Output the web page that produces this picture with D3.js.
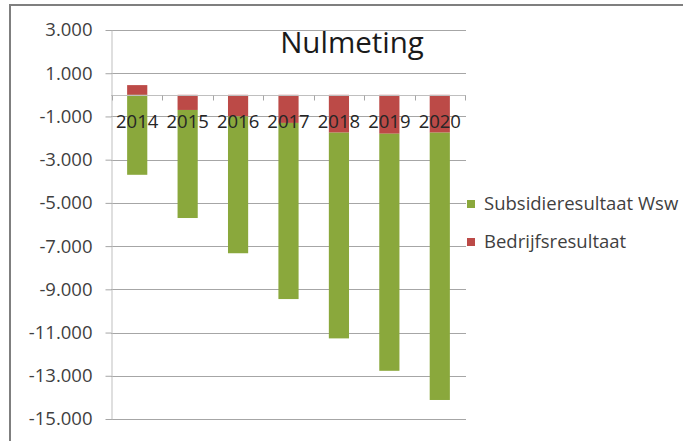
<!DOCTYPE html>
<html>
<head>
<meta charset="utf-8">
<script src="https://cdn.jsdelivr.net/npm/d3@7"></script>
<style>
  html, body { margin: 0; padding: 0; background: #ffffff; }
  svg { display: block; }
  text { font-family: "Open Sans", "Liberation Sans", sans-serif; }
</style>
</head>
<body>
<svg id="chart" width="683" height="441"></svg>
<script>
// Jaren en resultaten (in euro's x 1)
const years = ["2014", "2015", "2016", "2017", "2018", "2019", "2020"];
const subsidieresultaat = [-3700, -5000, -6330, -8150, -9520, -10970, -12370];
const bedrijfsresultaat = [450, -700, -1000, -1300, -1750, -1800, -1750];
const yTickValues = [3000, 1000, -1000, -3000, -5000, -7000, -9000, -11000, -13000, -15000];
const seriesNames = ["Subsidieresultaat Wsw", "Bedrijfsresultaat"];
const seriesColors = ["#8aa83c", "#bc4a47"];
const chartTitle = "Nulmeting";

const svg = d3.select("#chart");

// Dutch number format: 3.000 / -15.000
const nl = d3.formatLocale({ decimal: ",", thousands: ".", grouping: [3], currency: ["€", ""], minus: "-" });
const fmt = nl.format(",.0f");

const plot = { left: 111, right: 466, top: 30, bottom: 419 };

const x = d3.scaleBand()
  .domain(years)
  .range([112, 465])
  .paddingInner(0.6)
  .paddingOuter(0.3);

const y = d3.scaleLinear()
  .domain([-15000, 3000])
  .range([plot.bottom, plot.top]);

// Outer frame
svg.append("rect")
  .attr("x", 10).attr("y", 5)
  .attr("width", 690).attr("height", 460)
  .attr("fill", "none")
  .attr("stroke", "#7f7f7f")
  .attr("stroke-width", 2);

// Horizontal gridlines
svg.append("g")
  .selectAll("line")
  .data(yTickValues)
  .join("line")
  .attr("x1", plot.left)
  .attr("x2", plot.right)
  .attr("y1", d => Math.round(y(d)) + 0.5)
  .attr("y2", d => Math.round(y(d)) + 0.5)
  .attr("stroke", "#a6a6a6")
  .attr("stroke-width", 1);

// Y axis
const yAxis = d3.axisLeft(y)
  .tickValues(yTickValues)
  .tickFormat(fmt)
  .tickSizeInner(6)
  .tickSizeOuter(0)
  .tickPadding(13);

const gy = svg.append("g")
  .attr("transform", `translate(${plot.left + 0.5},0)`)
  .call(yAxis);
gy.select(".domain").attr("stroke", "#bfbfbf");
gy.selectAll(".tick line").attr("stroke", "#a6a6a6");
gy.selectAll(".tick text")
  .attr("fill", "#3f3f3f")
  .style("font-size", "18.5px");

// Stacked bars, diverging from zero
const rows = years.map((yr, i) => ({
  year: yr,
  bedrijf: bedrijfsresultaat[i],
  subsidie: subsidieresultaat[i]
}));
const stack = d3.stack()
  .keys(["bedrijf", "subsidie"])
  .offset(d3.stackOffsetDiverging);
const stacked = stack(rows);
const colorOf = { bedrijf: seriesColors[1], subsidie: seriesColors[0] };

svg.append("g")
  .selectAll("g")
  .data(stacked)
  .join("g")
  .attr("fill", s => colorOf[s.key])
  .selectAll("rect")
  .data(s => s)
  .join("rect")
  .attr("x", d => x(d.data.year))
  .attr("width", x.bandwidth())
  .attr("y", d => y(Math.max(d[0], d[1])))
  .attr("height", d => Math.abs(y(d[0]) - y(d[1])));

// Category axis along zero
const y0 = Math.round(y(0)) + 0.5;
const xAxisG = svg.append("g");
xAxisG.append("line")
  .attr("x1", plot.left).attr("x2", plot.right)
  .attr("y1", y0).attr("y2", y0)
  .attr("stroke", "#bfbfbf");
const boundaries = d3.range(years.length + 1).map(i => x.range()[0] + i * x.step());
xAxisG.selectAll("line.tk")
  .data(boundaries)
  .join("line")
  .attr("class", "tk")
  .attr("x1", d => Math.round(d) + 0.5)
  .attr("x2", d => Math.round(d) + 0.5)
  .attr("y1", y0)
  .attr("y2", y0 + 5)
  .attr("stroke", "#a6a6a6");
xAxisG.selectAll("text")
  .data(years)
  .join("text")
  .attr("x", d => x(d) + x.bandwidth() / 2)
  .attr("y", 128)
  .attr("text-anchor", "middle")
  .attr("fill", "#262626")
  .style("font-size", "18.5px")
  .text(d => d);

// Title
svg.append("text")
  .attr("x", 352)
  .attr("y", 53)
  .attr("text-anchor", "middle")
  .attr("fill", "#1a1a1a")
  .style("font-size", "29.5px")
  .text(chartTitle);

// Legend
const legend = svg.append("g");
const legendY = [204, 242];
seriesNames.forEach((name, i) => {
  legend.append("rect")
    .attr("x", 467)
    .attr("y", legendY[i] - 4)
    .attr("width", 8)
    .attr("height", 8)
    .attr("fill", seriesColors[i]);
  legend.append("text")
    .attr("x", 484)
    .attr("y", legendY[i] + 6)
    .attr("fill", "#3f3f3f")
    .style("font-size", "18.5px")
    .text(name);
});
</script>
</body>
</html>
